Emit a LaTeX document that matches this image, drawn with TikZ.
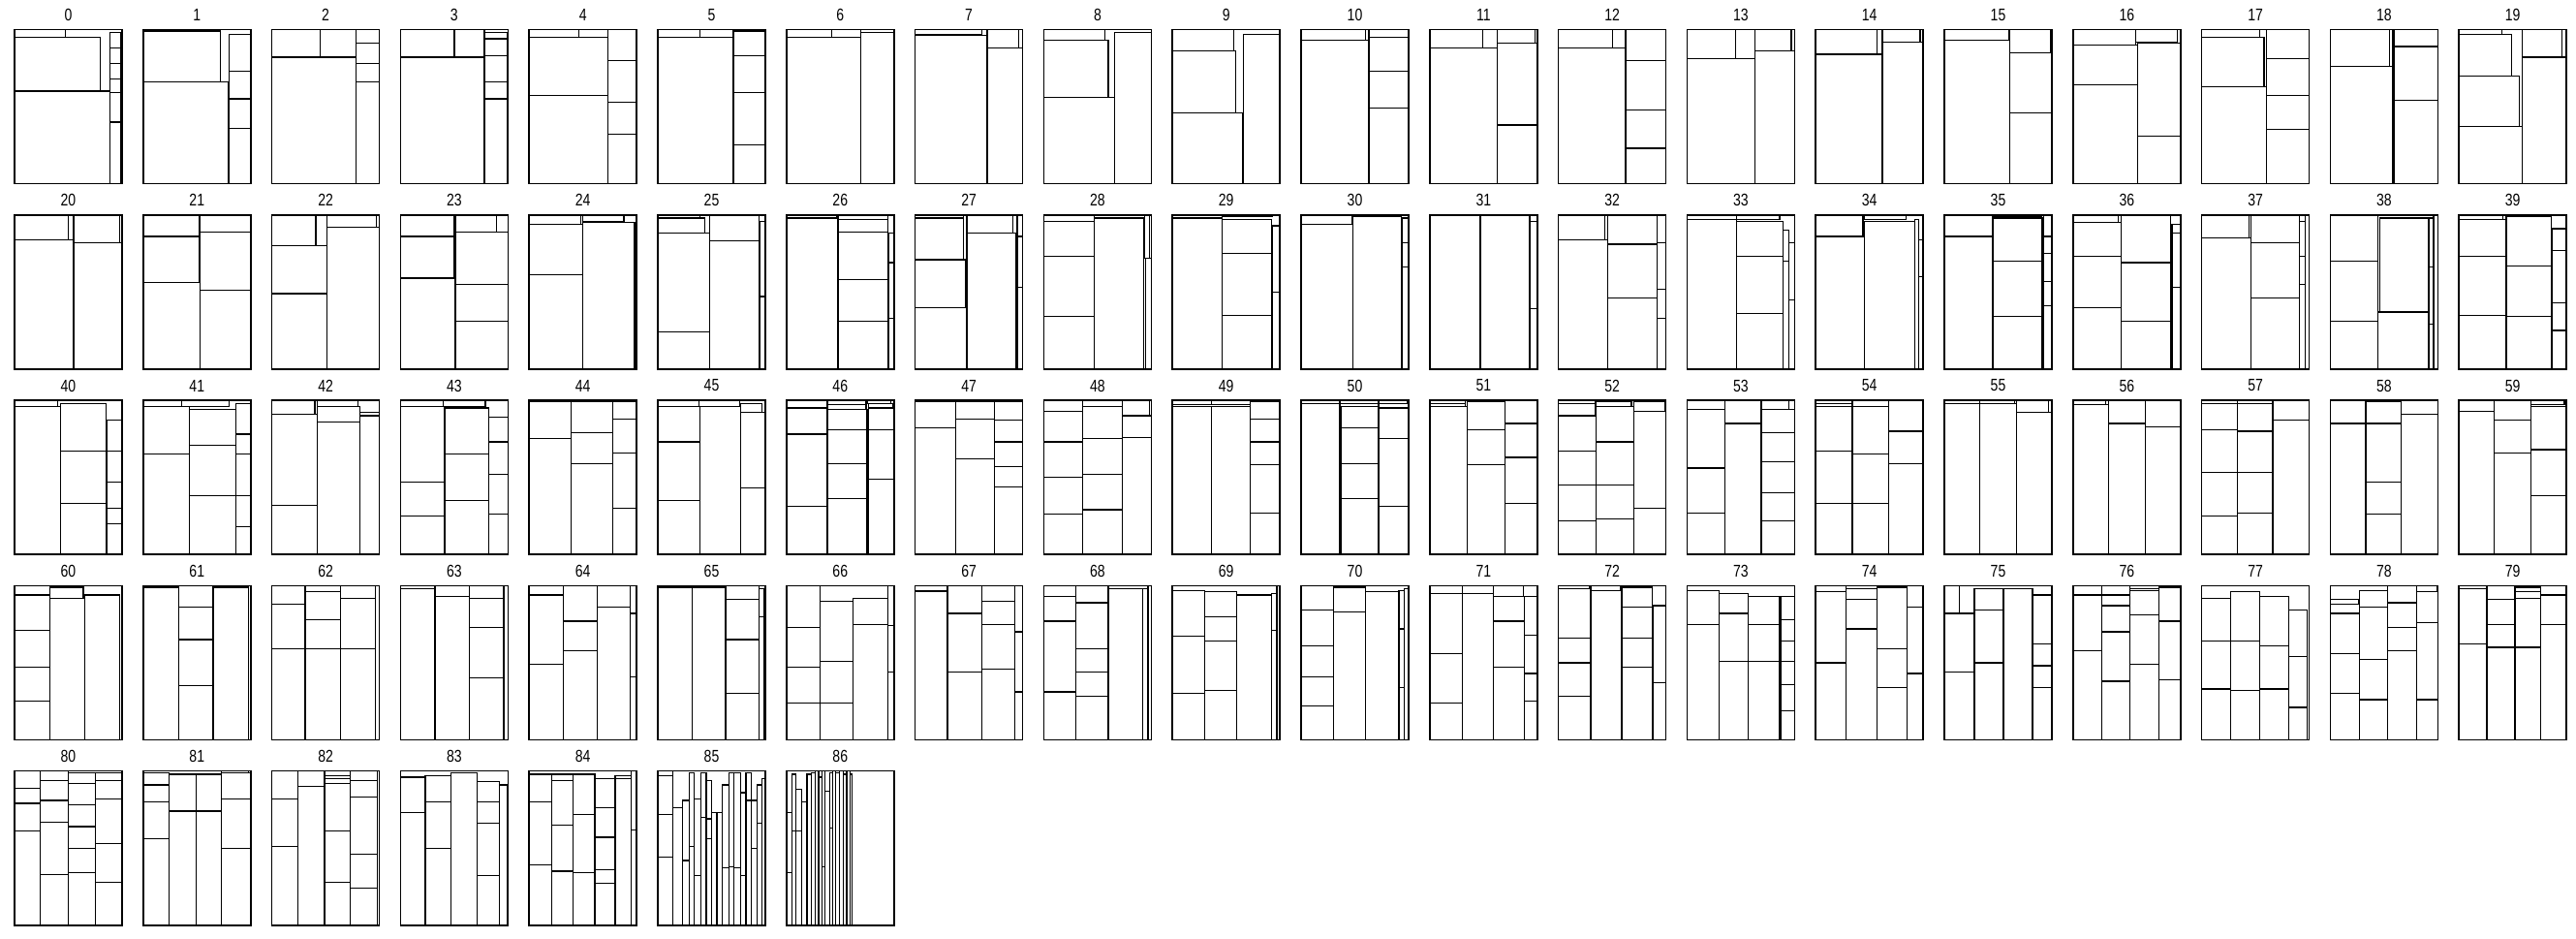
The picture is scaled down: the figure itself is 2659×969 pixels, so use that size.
\documentclass[tikz,border=0pt]{standalone}
\usepackage{fontspec}
\setmainfont{Liberation Sans}[FakeStretch=0.8]
\usepackage{tikz}
\tikzset{
  panel/.style={draw=black,line width=0.9pt},
  cell/.style={draw=black,line width=0.7pt},
  lab/.style={font=\fontsize{10}{12}\selectfont,inner sep=0pt},
}
% one stacked column: x1, x2, top, splits
\newcommand{\tcol}[4]{\draw[cell] (#1,#3) rectangle (#2,1);
  \foreach \s in {#4} {\draw[cell] (#1,\s) -- (#2,\s);}}
% one free box: x1, y1, x2, y2
\newcommand{\tbox}[4]{\draw[cell] (#1,#2) rectangle (#3,#4);}
% one panel: index, contents
\newcommand{\tpanel}[2]{%
  \pgfmathtruncatemacro\pnlc{mod(#1,20)}%
  \pgfmathtruncatemacro\pnlr{int(#1/20)}%
  \begin{scope}[shift={(15+132.8*\pnlc,30.5+191.3*\pnlr)},xscale=111,yscale=159]
    #2
    \draw[panel] (0,0) rectangle (1,1);
    \node[lab] (lab#1) at (0.5,-0.095) {#1};
  \end{scope}}
\begin{document}
\begin{tikzpicture}[x=0.02cm,y=-0.02cm]
\useasboundingbox (0,0) rectangle (2659,969);
% row 1
\tpanel{0}{\tbox{0}{0}{0.47}{0.05} \tbox{0}{0.05}{0.8}{0.4} \tbox{0}{0.4}{0.89}{1}
  \tcol{0.89}{0.99}{0.02}{0.12,0.22,0.32,0.41,0.6}}
\tpanel{1}{\tbox{0}{0}{0.63}{0.01} \tbox{0}{0.01}{0.72}{0.34} \tbox{0}{0.34}{0.79}{1}
  \tcol{0.8}{1}{0.03}{0.27,0.45,0.64}}
\tpanel{2}{\tbox{0}{0}{0.45}{0.18} \tbox{0.45}{0}{0.78}{0.18} \tbox{0}{0.18}{0.78}{1}
  \tcol{0.78}{1}{0.09}{0.22,0.34}}
\tpanel{3}{\tbox{0}{0}{0.5}{0.18} \tbox{0.5}{0}{0.78}{0.18} \tbox{0}{0.18}{0.78}{1}
  \tcol{0.78}{0.99}{0.02}{0.06,0.17,0.34,0.45}}
\tpanel{4}{\tbox{0}{0}{0.46}{0.05} \tbox{0.46}{0}{0.73}{0.05} \tbox{0}{0.05}{0.73}{0.43}
  \tbox{0}{0.43}{0.73}{1} \tcol{0.73}{1}{0}{0.2,0.47,0.68}}
\tpanel{5}{\tbox{0}{0}{0.39}{0.05} \tbox{0.39}{0}{0.7}{0.05} \tbox{0}{0.05}{0.7}{1}
  \tcol{0.71}{1}{0.01}{0.17,0.41,0.75}}
\tpanel{6}{\tbox{0}{0}{0.42}{0.05} \tbox{0.42}{0}{0.69}{0.05} \tbox{0}{0.05}{0.69}{1}
  \tbox{0.69}{0}{1}{0.02} \tcol{0.69}{1}{0.02}{1}}
\tpanel{7}{\tbox{0}{0}{0.62}{0.03} \tbox{0}{0.04}{0.67}{1} \tbox{0.67}{0}{0.96}{0.12}
  \tcol{0.67}{1}{0.12}{1}}
\tpanel{8}{\tbox{0}{0}{0.57}{0.07} \tbox{0}{0.07}{0.6}{0.44} \tbox{0}{0.44}{0.66}{1}
  \tcol{0.66}{1}{0.02}{1}}
\tpanel{9}{\tbox{0}{0}{0.57}{0.14} \tbox{0}{0.14}{0.59}{0.54} \tbox{0}{0.54}{0.65}{1}
  \tcol{0.66}{1}{0.03}{1}}
\tpanel{10}{\tbox{0}{0}{0.6}{0.07} \tbox{0}{0.07}{0.63}{1} \tcol{0.63}{1}{0}{0.05,0.27,0.51}}
\tpanel{11}{\tbox{0}{0}{0.49}{0.12} \tbox{0.49}{0}{0.63}{0.12} \tbox{0}{0.12}{0.63}{1}
  \tbox{0.63}{0}{0.98}{0.09} \tcol{0.63}{1}{0.09}{0.62}}
\tpanel{12}{\tbox{0}{0}{0.5}{0.12} \tbox{0.5}{0}{0.62}{0.12} \tbox{0}{0.12}{0.62}{1}
  \tcol{0.63}{1}{0}{0.2,0.52,0.77}}
\tpanel{13}{\tbox{0}{0}{0.45}{0.19} \tbox{0.45}{0}{0.63}{0.19} \tbox{0}{0.19}{0.63}{1}
  \tbox{0.63}{0}{0.97}{0.14} \tcol{0.63}{1}{0.14}{1}}
\tpanel{14}{\tbox{0}{0}{0.57}{0.16} \tbox{0.57}{0}{0.62}{0.16} \tbox{0}{0.16}{0.62}{1}
  \tbox{0.62}{0}{0.97}{0.08} \tcol{0.62}{1}{0.08}{1}}
\tpanel{15}{\tbox{0}{0}{0.6}{0.07} \tbox{0}{0.07}{0.61}{1} \tbox{0.61}{0}{0.99}{0.15}
  \tcol{0.61}{1}{0.15}{0.54}}
\tpanel{16}{\tbox{0}{0}{0.58}{0.1} \tbox{0.58}{0}{0.97}{0.08} \tbox{0}{0.1}{0.6}{0.36}
  \tbox{0}{0.36}{0.6}{1} \tcol{0.6}{1}{0.09}{0.69}}
\tpanel{17}{\tbox{0}{0}{0.54}{0.05} \tbox{0}{0.05}{0.58}{0.37} \tbox{0}{0.37}{0.6}{1}
  \tcol{0.6}{1}{0}{0.19,0.43,0.65}}
\tpanel{18}{\tbox{0}{0}{0.55}{0.24} \tbox{0.55}{0}{0.58}{0.24} \tbox{0}{0.24}{0.58}{1}
  \tbox{0.59}{0}{1}{0.11} \tcol{0.59}{1}{0.11}{0.46}}
\tpanel{19}{\tbox{0}{0}{0.4}{0.03} \tbox{0}{0.03}{0.49}{0.3} \tbox{0}{0.3}{0.56}{0.63}
  \tbox{0}{0.63}{0.59}{1} \tbox{0.59}{0}{0.96}{0.18} \tcol{0.59}{1}{0.18}{1}}
% row 2
\tpanel{20}{\tbox{0}{0}{0.5}{0.16} \tbox{0.5}{0}{0.55}{0.16} \tbox{0}{0.16}{0.55}{1}
  \tbox{0.55}{0}{0.98}{0.18} \tcol{0.55}{1}{0.18}{1}}
\tpanel{21}{\tbox{0}{0}{0.52}{0.14} \tbox{0}{0.14}{0.52}{0.44} \tbox{0}{0.44}{0.53}{1}
  \tbox{0.53}{0}{1}{0.11} \tcol{0.53}{1}{0.11}{0.49}}
\tpanel{22}{\tbox{0}{0}{0.41}{0.2} \tbox{0.41}{0}{0.51}{0.2} \tbox{0}{0.2}{0.51}{0.51}
  \tbox{0}{0.51}{0.51}{1} \tbox{0.51}{0}{0.97}{0.08} \tcol{0.51}{1}{0.08}{1}}
\tpanel{23}{\tbox{0}{0}{0.5}{0.14} \tbox{0}{0.14}{0.5}{0.41} \tbox{0}{0.41}{0.51}{1}
  \tbox{0.51}{0}{0.89}{0.11} \tcol{0.51}{1}{0.11}{0.45,0.69}}
\tpanel{24}{\tbox{0}{0}{0.48}{0.06} \tbox{0.5}{0}{0.88}{0.04} \tbox{0}{0.06}{0.5}{0.39}
  \tbox{0}{0.39}{0.5}{1} \tcol{0.5}{0.98}{0.05}{1}}
\tpanel{25}{\tbox{0}{0}{0.39}{0.02} \tbox{0}{0.02}{0.44}{0.12} \tbox{0}{0.12}{0.48}{0.76}
  \tbox{0}{0.76}{0.48}{1} \tbox{0.48}{0}{0.94}{0.17} \tcol{0.48}{0.94}{0.17}{1}
  \tcol{0.95}{1}{0.04}{0.53}}
\tpanel{26}{\tbox{0}{0}{0.47}{0.02} \tbox{0}{0.02}{0.48}{1}
  \tcol{0.48}{0.94}{0}{0.03,0.11,0.42,0.69} \tcol{0.95}{1}{0.12}{0.31,0.67}}
\tpanel{27}{\tbox{0}{0}{0.45}{0.02} \tbox{0}{0.02}{0.45}{0.29} \tbox{0}{0.29}{0.47}{0.6}
  \tbox{0}{0.6}{0.48}{1} \tbox{0.48}{0}{0.91}{0.12} \tcol{0.48}{0.94}{0.12}{1}
  \tcol{0.95}{1}{0}{0.14,0.47}}
\tpanel{28}{\tbox{0}{0}{0.47}{0.04} \tbox{0}{0.04}{0.47}{0.27} \tbox{0}{0.27}{0.47}{0.66}
  \tbox{0}{0.66}{0.47}{1} \tcol{0.47}{0.93}{0.02}{1} \tbox{0.94}{0}{0.98}{0.28}
  \tcol{0.95}{1}{0.28}{1}}
\tpanel{29}{\tbox{0}{0}{0.46}{0.02} \tbox{0}{0.02}{0.46}{1} \tbox{0.46}{0}{0.93}{0.01}
  \tcol{0.46}{0.92}{0.03}{0.25,0.65} \tcol{0.93}{1}{0.07}{0.5}}
\tpanel{30}{\tbox{0}{0}{0.47}{0.06} \tbox{0}{0.06}{0.48}{1} \tbox{0.48}{0}{0.93}{0.01}
  \tcol{0.48}{0.93}{0.01}{1} \tcol{0.94}{1}{0.02}{0.18,0.34}}
\tpanel{31}{\tbox{0}{0}{0.47}{1} \tbox{0.47}{0}{0.93}{1} \tcol{0.93}{1}{0.04}{0.61}}
\tpanel{32}{\tbox{0}{0}{0.43}{0.16} \tbox{0.43}{0}{0.46}{0.16} \tbox{0}{0.16}{0.46}{1}
  \tcol{0.46}{0.92}{0}{0.19,0.54} \tcol{0.92}{1}{0.18}{0.48,0.67}}
\tpanel{33}{\tbox{0}{0}{0.46}{0.03} \tbox{0}{0.03}{0.46}{1} \tbox{0.46}{0}{0.86}{0.03}
  \tcol{0.46}{0.89}{0.04}{0.27,0.64} \tcol{0.89}{0.95}{0.1}{0.3} \tcol{0.95}{1}{0.18}{0.55}}
\tpanel{34}{\tbox{0}{0}{0.44}{0.14} \tbox{0}{0.14}{0.45}{1} \tbox{0.45}{0}{0.84}{0.03}
  \tcol{0.45}{0.92}{0.04}{1} \tcol{0.92}{0.96}{0.03}{1} \tcol{0.96}{1}{0.16}{0.4}}
\tpanel{35}{\tbox{0}{0}{0.45}{0.14} \tbox{0}{0.14}{0.45}{1} \tbox{0.45}{0}{0.9}{0.01}
  \tcol{0.45}{0.91}{0.02}{0.3,0.66} \tcol{0.92}{1}{0}{0.14,0.25,0.43,0.59}}
\tpanel{36}{\tbox{0}{0}{0.42}{0.05} \tbox{0}{0.05}{0.45}{0.27} \tbox{0}{0.27}{0.45}{0.6}
  \tbox{0}{0.6}{0.45}{1} \tcol{0.45}{0.91}{0}{0.31,0.69} \tcol{0.92}{1}{0.06}{0.12,0.47}}
\tpanel{37}{\tbox{0}{0}{0.44}{0.15} \tbox{0.44}{0}{0.46}{0.15} \tbox{0}{0.15}{0.46}{1}
  \tcol{0.46}{0.91}{0}{0.18,0.54} \tcol{0.91}{0.96}{0}{0.04,0.27,0.45} \tcol{0.96}{1}{0}{1}}
\tpanel{38}{\tbox{0}{0}{0.44}{0.3} \tbox{0}{0.3}{0.44}{0.69} \tbox{0}{0.69}{0.44}{1}
  \tbox{0.46}{0.02}{0.91}{0.63} \tcol{0.44}{0.91}{0.63}{1} \tcol{0.92}{0.96}{0.02}{0.34,0.71}
  \tcol{0.96}{1}{0}{1}}
\tpanel{39}{\tbox{0}{0}{0.41}{0.03} \tbox{0}{0.03}{0.44}{0.27} \tbox{0}{0.27}{0.44}{0.65}
  \tbox{0}{0.65}{0.44}{1} \tcol{0.44}{0.86}{0.01}{0.33,0.66} \tcol{0.87}{1}{0.09}{0.23,0.57,0.75}}
% row 3
\tpanel{40}{\tbox{0}{0}{0.4}{0.04} \tbox{0}{0.04}{0.43}{1} \tcol{0.43}{0.85}{0.02}{0.33,0.67}
  \tcol{0.86}{1}{0.13}{0.33,0.53,0.7,0.8}}
\tpanel{41}{\tbox{0}{0}{0.36}{0.04} \tbox{0.36}{0}{0.8}{0.04} \tbox{0}{0.04}{0.43}{0.35}
  \tbox{0}{0.35}{0.43}{1} \tcol{0.43}{0.86}{0.06}{0.29,0.62} \tcol{0.86}{1}{0.02}{0.22,0.35,0.62,0.82}}
\tpanel{42}{\tbox{0}{0}{0.4}{0.09} \tbox{0}{0.09}{0.42}{0.68} \tbox{0}{0.68}{0.42}{1}
  \tbox{0.42}{0}{0.8}{0.04} \tbox{0.42}{0.04}{0.82}{0.14} \tcol{0.42}{0.82}{0.14}{1}
  \tcol{0.82}{1}{0.08}{0.1}}
\tpanel{43}{\tbox{0}{0}{0.4}{0.04} \tbox{0.4}{0}{0.79}{0.04} \tcol{0}{0.41}{0.04}{0.53,0.75}
  \tcol{0.41}{0.82}{0.05}{0.35,0.65} \tcol{0.82}{1}{0.11}{0.27,0.48,0.74}}
\tpanel{44}{\tbox{0}{0}{0.38}{0.01} \tbox{0}{0.01}{0.39}{0.25} \tbox{0}{0.25}{0.39}{1}
  \tcol{0.39}{0.78}{0.01}{0.21,0.41} \tcol{0.78}{1}{0.01}{0.12,0.34,0.7}}
\tpanel{45}{\tbox{0}{0}{0.38}{0.04} \tbox{0.38}{0}{0.76}{0.04} \tcol{0}{0.39}{0.04}{0.27,0.65}
  \tcol{0.39}{0.77}{0.04}{1} \tbox{0.77}{0.02}{0.97}{0.08} \tcol{0.77}{1}{0.08}{0.57}}
\tpanel{46}{\tbox{0}{0}{0.38}{0.05} \tcol{0}{0.38}{0.05}{0.22,0.69} \tbox{0.38}{0}{0.74}{0.03}
  \tbox{0.38}{0.03}{0.74}{0.06} \tcol{0.38}{0.75}{0.06}{0.19,0.41,0.64}
  \tbox{0.75}{0}{0.97}{0.02} \tbox{0.76}{0.02}{0.99}{0.05} \tcol{0.76}{1}{0.05}{0.19,0.51}}
\tpanel{47}{\tbox{0}{0}{0.38}{0.01} \tcol{0}{0.38}{0.01}{0.18} \tbox{0.38}{0.01}{0.74}{0.12}
  \tcol{0.38}{0.74}{0.12}{0.38} \tcol{0.74}{1}{0.01}{0.13,0.27,0.43,0.56}}
\tpanel{48}{\tbox{0}{0}{0.36}{0.07} \tcol{0}{0.36}{0.07}{0.27,0.5,0.74} \tbox{0.36}{0}{0.73}{0.04}
  \tcol{0.36}{0.73}{0.04}{0.25,0.48,0.71} \tbox{0.73}{0}{0.98}{0.1} \tcol{0.73}{1}{0.1}{0.24}}
\tpanel{49}{\tbox{0}{0}{0.36}{0.03} \tbox{0.36}{0}{0.72}{0.03} \tcol{0}{0.36}{0.04}{1}
  \tcol{0.36}{0.72}{0.04}{1} \tcol{0.72}{1}{0.01}{0.12,0.27,0.42,0.73}}
\tpanel{50}{\tbox{0}{0}{0.36}{0.02} \tbox{0}{0.02}{0.36}{1} \tbox{0.36}{0}{0.72}{0.02}
  \tbox{0.36}{0.02}{0.72}{0.04} \tcol{0.37}{0.72}{0.04}{0.18,0.41,0.64}
  \tbox{0.72}{0}{0.99}{0.02} \tcol{0.72}{1}{0.05}{0.25,0.69}}
\tpanel{51}{\tbox{0}{0}{0.33}{0.02} \tbox{0}{0.02}{0.33}{0.04} \tcol{0}{0.35}{0.04}{1}
  \tcol{0.35}{0.7}{0.01}{0.19,0.42} \tcol{0.7}{1}{0}{0.15,0.37,0.67}}
\tpanel{52}{\tbox{0}{0}{0.34}{0.02} \tbox{0}{0.02}{0.34}{0.1} \tcol{0}{0.35}{0.1}{0.33,0.55,0.78}
  \tbox{0.35}{0}{0.68}{0.01} \tbox{0.35}{0.01}{0.68}{0.04} \tcol{0.35}{0.7}{0.04}{0.27,0.55,0.77}
  \tbox{0.7}{0.01}{0.99}{0.07} \tcol{0.7}{1}{0.07}{0.7}}
\tpanel{53}{\tbox{0}{0}{0.35}{0.06} \tcol{0}{0.35}{0.06}{0.44,0.73} \tcol{0.35}{0.69}{0}{0.15}
  \tbox{0.69}{0}{0.95}{0.06} \tcol{0.69}{1}{0.06}{0.21,0.4,0.6,0.78}}
\tpanel{54}{\tbox{0}{0}{0.34}{0.02} \tbox{0}{0.02}{0.34}{0.04} \tcol{0}{0.34}{0.04}{0.33,0.67}
  \tbox{0.34}{0}{0.68}{0.04} \tcol{0.34}{0.68}{0.04}{0.35,0.67} \tcol{0.68}{1}{0}{0.2,0.41}}
\tpanel{55}{\tbox{0}{0}{0.33}{0.02} \tcol{0}{0.33}{0.02}{1} \tbox{0.33}{0}{0.65}{0.02}
  \tcol{0.33}{0.67}{0.02}{1} \tbox{0.67}{0}{0.97}{0.08} \tcol{0.67}{1}{0.08}{1}}
\tpanel{56}{\tbox{0}{0}{0.3}{0.03} \tcol{0}{0.33}{0.03}{1} \tcol{0.33}{0.67}{0}{0.15}
  \tcol{0.67}{1}{0}{0.17}}
\tpanel{57}{\tbox{0}{0}{0.33}{0.02} \tcol{0}{0.33}{0.02}{0.19,0.47,0.75} \tbox{0.33}{0}{0.66}{0.02}
  \tcol{0.33}{0.66}{0.02}{0.2,0.47,0.73} \tcol{0.66}{1}{0}{0.13}}
\tpanel{58}{\tcol{0}{0.33}{0}{0.15} \tcol{0.33}{0.66}{0.01}{0.15,0.53,0.74} \tcol{0.66}{1}{0}{0.09}}
\tpanel{59}{\tcol{0}{0.33}{0}{0.07} \tcol{0.33}{0.67}{0}{0.13,0.34} \tbox{0.67}{0}{0.98}{0.03}
  \tcol{0.67}{1}{0.04}{0.32,0.62}}
% row 4
\tpanel{60}{\tcol{0}{0.33}{0.06}{0.29,0.53,0.75} \tbox{0.33}{0.01}{0.64}{0.08}
  \tcol{0.33}{0.65}{0.08}{1} \tcol{0.65}{0.98}{0.06}{1}}
\tpanel{61}{\tcol{0}{0.33}{0.01}{1} \tcol{0.33}{0.65}{0}{0.14,0.35,0.65} \tcol{0.65}{0.98}{0.01}{1}}
\tpanel{62}{\tcol{0}{0.31}{0}{0.12,0.41} \tcol{0.31}{0.64}{0.04}{0.22,0.41}
  \tcol{0.64}{0.96}{0}{0.08,0.41} \tcol{0.96}{1}{0}{1}}
\tpanel{63}{\tcol{0}{0.32}{0.02}{1} \tcol{0.32}{0.64}{0}{0.07} \tcol{0.64}{0.96}{0}{0.08,0.27,0.6}
  \tcol{0.96}{1}{0}{1}}
\tpanel{64}{\tcol{0}{0.32}{0.06}{0.51} \tcol{0.32}{0.63}{0}{0.23,0.42} \tcol{0.63}{0.94}{0}{0.14}
  \tcol{0.94}{1}{0.18}{0.59}}
\tpanel{65}{\tcol{0}{0.32}{0.01}{1} \tcol{0.32}{0.63}{0.01}{1} \tcol{0.63}{0.94}{0}{0.09,0.35,0.7}
  \tcol{0.94}{0.99}{0.02}{0.2}}
\tpanel{66}{\tcol{0}{0.31}{0}{0.27,0.53,0.76} \tcol{0.31}{0.62}{0.1}{0.49,0.76}
  \tcol{0.62}{0.94}{0.08}{0.25} \tcol{0.94}{1}{0}{0.26,0.56}}
\tpanel{67}{\tbox{0}{0}{0.3}{0.03} \tcol{0}{0.3}{0.04}{1} \tcol{0.3}{0.62}{0}{0.18,0.56}
  \tcol{0.62}{0.93}{0}{0.1,0.25,0.54} \tcol{0.93}{1}{0}{0.3,0.69}}
\tpanel{68}{\tcol{0}{0.3}{0}{0.07,0.23,0.69} \tcol{0.3}{0.6}{0}{0.11,0.41,0.56,0.72}
  \tcol{0.6}{0.92}{0.02}{1} \tcol{0.92}{0.97}{0.02}{1} \tcol{0.97}{1}{0}{1}}
\tpanel{69}{\tcol{0}{0.3}{0.03}{0.33,0.7} \tcol{0.3}{0.6}{0.04}{0.2,0.36,0.68}
  \tcol{0.6}{0.92}{0.06}{1} \tcol{0.92}{0.97}{0.05}{0.29} \tcol{0.97}{1}{0}{1}}
\tpanel{70}{\tcol{0}{0.3}{0}{0.16,0.39,0.59,0.78} \tcol{0.3}{0.6}{0.01}{0.17}
  \tcol{0.6}{0.91}{0.04}{1} \tcol{0.91}{0.96}{0.03}{0.28,0.66} \tcol{0.96}{1}{0.02}{1}}
\tpanel{71}{\tbox{0}{0}{0.3}{0.05} \tcol{0}{0.3}{0.05}{0.44,0.76} \tbox{0.3}{0}{0.59}{0.05}
  \tcol{0.3}{0.59}{0.05}{1} \tbox{0.59}{0}{0.87}{0.07} \tcol{0.59}{0.88}{0.07}{0.23,0.53}
  \tcol{0.88}{1}{0.07}{0.32,0.57,0.75}}
\tpanel{72}{\tbox{0}{0}{0.29}{0.02} \tcol{0}{0.3}{0.02}{0.34,0.5,0.72} \tbox{0.3}{0}{0.58}{0.03}
  \tcol{0.3}{0.59}{0.03}{1} \tcol{0.59}{0.87}{0.01}{0.14,0.34,0.53} \tcol{0.88}{1}{0.13}{0.63}}
\tpanel{73}{\tcol{0}{0.3}{0.03}{0.25} \tcol{0.3}{0.57}{0.05}{0.18,0.49} \tcol{0.57}{0.86}{0.07}{0.25,0.49}
  \tcol{0.87}{1}{0.07}{0.22,0.36,0.49,0.64,0.81}}
\tpanel{74}{\tbox{0}{0}{0.28}{0.04} \tcol{0}{0.28}{0.04}{0.5} \tcol{0.28}{0.57}{0.02}{0.09,0.28}
  \tcol{0.57}{0.85}{0.01}{0.41,0.66} \tcol{0.85}{1}{0}{0.14,0.57}}
\tpanel{75}{\tbox{0}{0}{0.14}{0.18} \tcol{0}{0.28}{0.18}{0.56} \tbox{0.28}{0.02}{0.55}{0.16}
  \tcol{0.28}{0.55}{0.16}{0.5} \tcol{0.55}{0.82}{0.02}{1} \tcol{0.82}{1}{0.06}{0.38,0.52,0.66}}
\tpanel{76}{\tcol{0}{0.27}{0}{0.06,0.42} \tcol{0.27}{0.53}{0}{0.06,0.13,0.3,0.62}
  \tbox{0.53}{0}{0.8}{0.02} \tcol{0.53}{0.8}{0.03}{0.19,0.51} \tcol{0.8}{1}{0.01}{0.23,0.61}}
\tpanel{77}{\tcol{0}{0.27}{0.08}{0.36,0.67} \tcol{0.27}{0.54}{0.04}{0.36,0.68}
  \tcol{0.54}{0.81}{0.07}{0.39,0.67} \tcol{0.81}{0.98}{0.16}{0.46,0.79}}
\tpanel{78}{\tbox{0}{0.09}{0.26}{0.12} \tcol{0}{0.27}{0.12}{0.18,0.44,0.7}
  \tcol{0.27}{0.53}{0.03}{0.14,0.48,0.74} \tcol{0.53}{0.8}{0}{0.11,0.27,0.42}
  \tbox{0.8}{0}{0.99}{0.04} \tcol{0.8}{1}{0.04}{0.24,0.74}}
\tpanel{79}{\tcol{0}{0.26}{0.02}{0.38} \tcol{0.26}{0.52}{0}{0.09,0.25,0.4}
  \tbox{0.52}{0.01}{0.76}{0.04} \tbox{0.52}{0.04}{0.76}{0.08} \tcol{0.52}{0.76}{0.08}{0.4}
  \tcol{0.76}{1}{0.06}{0.25}}
% row 5
\tpanel{80}{\tcol{0}{0.24}{0}{0.11,0.21,0.39} \tcol{0.24}{0.5}{0}{0.06,0.19,0.33,0.67}
  \tcol{0.5}{0.75}{0.01}{0.08,0.22,0.36,0.5,0.66} \tcol{0.75}{1}{0.01}{0.06,0.18,0.47,0.72}}
\tpanel{81}{\tcol{0}{0.24}{0.01}{0.09,0.2,0.44} \tcol{0.24}{0.49}{0.02}{0.26} \tcol{0.49}{0.73}{0.02}{0.26}
  \tbox{0.73}{0}{0.98}{0.01} \tcol{0.73}{1}{0.01}{0.18,0.5}}
\tpanel{82}{\tcol{0}{0.24}{0}{0.18,0.49} \tcol{0.24}{0.49}{0}{0.1}
  \tcol{0.49}{0.73}{0}{0.03,0.05,0.08,0.39,0.72} \tcol{0.73}{0.98}{0.06}{0.17,0.54,0.76}
  \tcol{0.98}{1}{0}{1}}
\tpanel{83}{\tcol{0}{0.23}{0.04}{0.27} \tcol{0.23}{0.47}{0.03}{0.2,0.5} \tcol{0.47}{0.71}{0.01}{1}
  \tcol{0.71}{0.92}{0.07}{0.2,0.34,0.68} \tcol{0.92}{0.99}{0.09}{1}}
\tpanel{84}{\tcol{0}{0.21}{0.02}{0.2,0.61} \tcol{0.21}{0.41}{0.02}{0.06,0.35,0.65}
  \tcol{0.41}{0.61}{0.02}{0.28,0.66} \tcol{0.61}{0.8}{0.05}{0.24,0.43,0.64,0.73}
  \tcol{0.8}{0.95}{0.03}{0.05} \tcol{0.95}{1}{0}{0.38}}
\tpanel{85}{\tcol{0}{0.14}{0}{0.03,0.28,0.56} \tcol{0.14}{0.23}{0.24}{1} \tcol{0.23}{0.29}{0.19}{0.58}
  \tcol{0.29}{0.34}{0.01}{0.49} \tcol{0.34}{0.4}{0.18}{0.68} \tcol{0.4}{0.45}{0.01}{0.3}
  \tcol{0.45}{0.5}{0.06}{0.31,0.44} \tcol{0.5}{0.55}{0.27}{1} \tcol{0.55}{0.6}{0.27}{1}
  \tcol{0.6}{0.66}{0.09}{0.63} \tcol{0.66}{0.71}{0.01}{0.62} \tcol{0.71}{0.77}{0.01}{0.63}
  \tcol{0.77}{0.82}{0.14}{0.68} \tcol{0.82}{0.87}{0.01}{0.19} \tcol{0.87}{0.92}{0.19}{0.5}
  \tcol{0.92}{0.97}{0.09}{0.34} \tcol{0.97}{1}{0.05}{1}}
\tpanel{86}{\tcol{0}{0.05}{0.27}{0.66} \tcol{0.05}{0.09}{0.02}{0.39} \tcol{0.09}{0.14}{0.12}{0.39}
  \tcol{0.14}{0.19}{0.2}{1} \tcol{0.19}{0.23}{0.02}{1} \tcol{0.23}{0.27}{0.01}{1}
  \tcol{0.27}{0.3}{0}{1} \tcol{0.3}{0.33}{0.04}{1} \tcol{0.33}{0.36}{0}{0.62}
  \tcol{0.36}{0.4}{0.13}{1} \tcol{0.4}{0.43}{0.01}{0.37} \tcol{0.43}{0.46}{0}{1}
  \tcol{0.46}{0.49}{0.01}{1} \tcol{0.49}{0.53}{0}{1} \tcol{0.53}{0.56}{0.02}{1}
  \tcol{0.56}{0.59}{0}{1} \tcol{0.59}{0.61}{0.02}{1}}
\end{tikzpicture}
\end{document}
